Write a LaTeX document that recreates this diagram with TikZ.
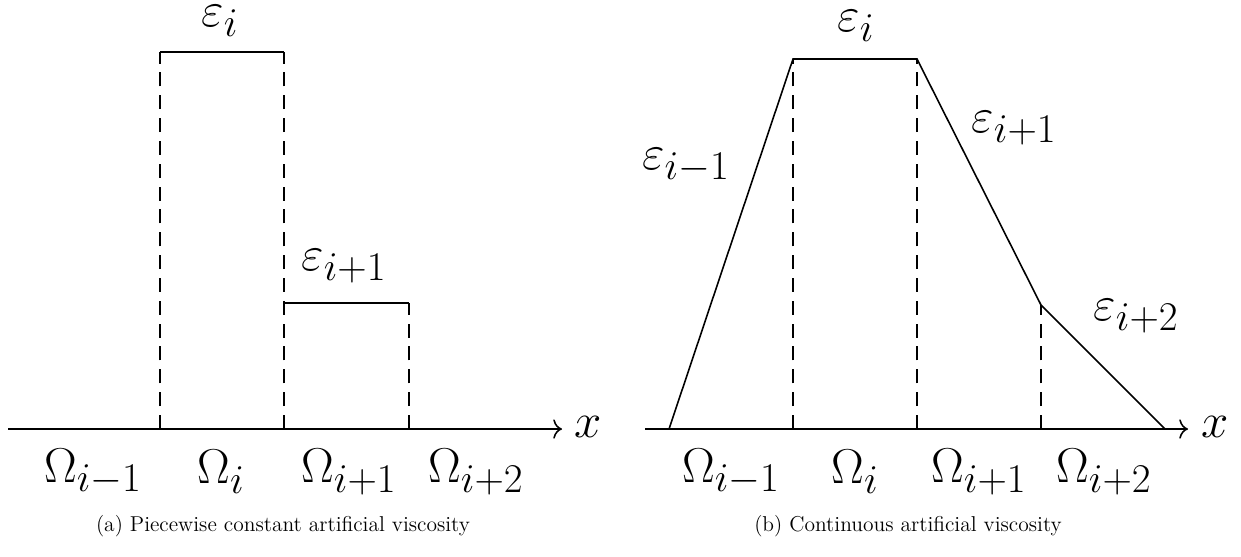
\documentclass[tikz,border=0pt]{standalone}
\usepackage{tikz}
\usetikzlibrary{arrows.meta}

\tikzset{
  lbl/.style={font=\Huge, scale=1.12, inner sep=0pt},
  capt/.style={font=\fontsize{12}{14}\selectfont, scale=1.02, inner sep=0pt},
  guide/.style={dash pattern=on 8pt off 5pt, line width=0.9pt},
  viscline/.style={line width=0.9pt},
  xaxis/.style={line width=0.9pt, -{To[length=5pt,width=11pt]}}
}

\begin{document}
\begin{tikzpicture}[x=0.02cm,y=-0.02cm]
  \useasboundingbox (0,0) rectangle (1241,556);
  % (a) piecewise constant
  \coordinate (La) at (8,429);
  \coordinate (Lb) at (562,429);
  \coordinate (L1) at (160,429);
  \coordinate (L2) at (284,429);
  \coordinate (L3) at (409,429);
  \coordinate (L1t) at (160,52);
  \coordinate (L2t) at (284,52);
  \coordinate (L2m) at (284,303);
  \coordinate (L3t) at (409,303);
  \node[lbl] (Lx) at (588,427) {$x$};
  \node[lbl] (LE0) at (220,21) {$\varepsilon_i$};
  \node[lbl] (LE1) at (344,266) {$\varepsilon_{i+1}$};
  \node[lbl] (LO0) at (93,472) {$\Omega_{i-1}$};
  \node[lbl] (LO1) at (221,472) {$\Omega_{i}$};
  \node[lbl] (LO2) at (349,472) {$\Omega_{i+1}$};
  \node[lbl] (LO3) at (476,472) {$\Omega_{i+2}$};
  \node[capt] (Lcap) at (283,526) {(a) Piecewise constant artificial viscosity};
  \draw[xaxis] (La) -- (Lb);
  \draw[guide] (L1) -- (L1t) (L2) -- (L2t) (L3) -- (L3t);
  \draw[viscline] (L1t) -- (L2t) (L2m) -- (L3t);
  % (b) continuous
  \coordinate (Ra) at (645,429);
  \coordinate (Rb) at (1188,429);
  \coordinate (P0) at (669,429);
  \coordinate (P1) at (793,59);
  \coordinate (P2) at (917,59);
  \coordinate (P3) at (1041,305);
  \coordinate (P4) at (1165,429);
  \coordinate (R1) at (793,429);
  \coordinate (R2) at (917,429);
  \coordinate (R3) at (1041,429);
  \node[lbl] (Rx) at (1215,427) {$x$};
  \node[lbl] (RE0) at (856,26) {$\varepsilon_i$};
  \node[lbl] (RE1) at (1014,128) {$\varepsilon_{i+1}$};
  \node[lbl] (REm) at (686,166) {$\varepsilon_{i-1}$};
  \node[lbl] (RE2) at (1136,316) {$\varepsilon_{i+2}$};
  \node[lbl] (RO0) at (731,472) {$\Omega_{i-1}$};
  \node[lbl] (RO1) at (855,472) {$\Omega_{i}$};
  \node[lbl] (RO2) at (979,472) {$\Omega_{i+1}$};
  \node[lbl] (RO3) at (1104,472) {$\Omega_{i+2}$};
  \node[capt] (Rcap) at (908,526) {(b) Continuous artificial viscosity};
  \draw[xaxis] (Ra) -- (Rb);
  \draw[guide] (R1) -- (P1) (R2) -- (P2) (R3) -- (P3);
  \draw[viscline] (P0) -- (P1) -- (P2) -- (P3) -- (P4);
\end{tikzpicture}
\end{document}
